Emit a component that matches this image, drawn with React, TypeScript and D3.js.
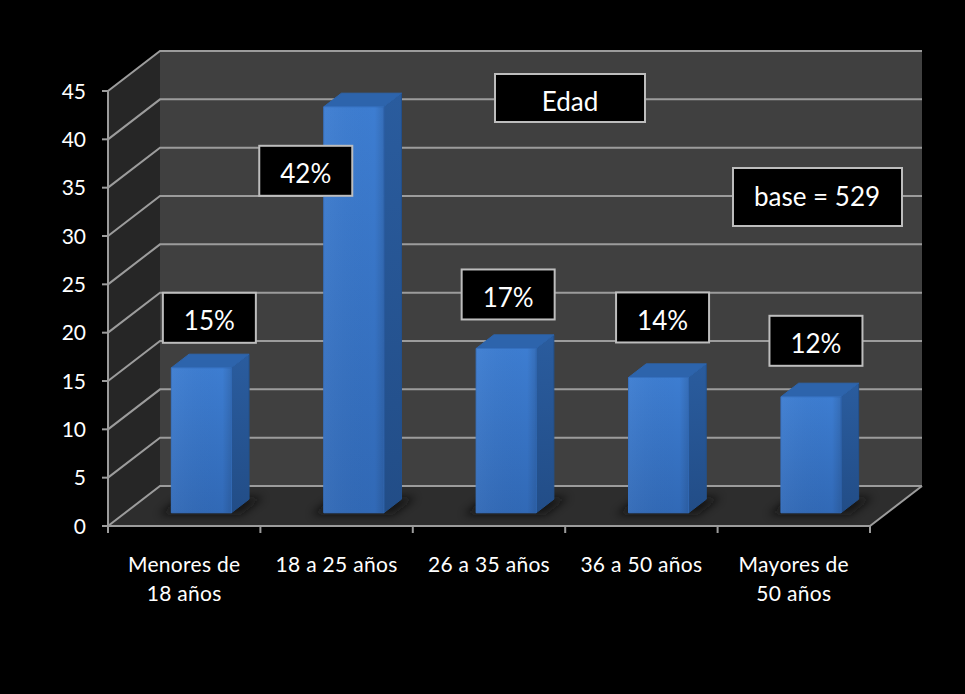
import React from "react";
import * as d3 from "d3";

// Age distribution of respondents (percent)
const categories: string[][] = [
  ["Menores de", "18 años"],
  ["18 a 25 años"],
  ["26 a 35 años"],
  ["36 a 50 años"],
  ["Mayores de", "50 años"],
];
const values: number[] = [15, 42, 17, 14, 12];
const yTicks: number[] = [0, 5, 10, 15, 20, 25, 30, 35, 40, 45];
const chartTitle = "Edad";
const baseNote = "base = 529";

// Offsets of each value box from the top-front centre of its bar (layout)
const labelOffsets: [number, number][] = [
  [8, -75],
  [-48, 39],
  [2, -79],
  [4, -85],
  [5, -81],
];

const W = 965;
const H = 694;
const FONT = "Lato, 'Noto Sans', sans-serif";

// 3D projection: depth vector from front plane to back wall
const DX = 52;
const DY = -40;
const Z0 = 0.33; // bar front face depth
const Z1 = 0.67; // bar back face depth

export default function App() {
  const keys = categories.map((c) => c.join(" "));
  const x = d3
    .scaleBand<string>()
    .domain(keys)
    .range([108, 870])
    .paddingInner(0.606)
    .paddingOuter(0.303);
  const y = d3.scaleLinear().domain([0, 45]).range([526, 91]);
  const step = x.step();
  const x0 = x.range()[0];
  const x1 = x.range()[1];
  const yTop = y(45);
  const yBase = y(0);

  const pt = (px: number, py: number, z: number) => [px + DX * z, py + DY * z];
  const poly = (pts: number[][]) => pts.map((p) => p.join(",")).join(" ");

  return (
    <div style={{ position: "fixed", inset: 0, background: "#000" }}>
      <svg width={W} height={H} style={{ display: "block" }} fontFamily={FONT}>
        <defs>
          <linearGradient id="front" x1="0" y1="0" x2="0" y2="1">
            <stop offset="0" stopColor="#3d7dd1" />
            <stop offset="1" stopColor="#3169b6" />
          </linearGradient>
          <linearGradient id="frontH" x1="0" y1="0" x2="1" y2="0">
            <stop offset="0" stopColor="#ffffff" stopOpacity="0.04" />
            <stop offset="0.85" stopColor="#000000" stopOpacity="0" />
            <stop offset="1" stopColor="#000000" stopOpacity="0.12" />
          </linearGradient>
          <linearGradient id="side" x1="0" y1="0" x2="0" y2="1">
            <stop offset="0" stopColor="#2a5c9e" />
            <stop offset="1" stopColor="#224d87" />
          </linearGradient>
          <filter id="shadowBlur" x="-30%" y="-100%" width="160%" height="300%">
            <feGaussianBlur stdDeviation="4" />
          </filter>
        </defs>

        <rect width={W} height={H} fill="#000" />

        {/* walls and floor */}
        <polygon
          points={poly([pt(x0, yTop, 1), pt(x1, yTop, 1), pt(x1, yBase, 1), pt(x0, yBase, 1)])}
          fill="#404040"
        />
        <polygon
          points={poly([pt(x0, yTop, 0), pt(x0, yTop, 1), pt(x0, yBase, 1), pt(x0, yBase, 0)])}
          fill="#262626"
        />
        <polygon
          points={poly([pt(x0, yBase, 0), pt(x0, yBase, 1), pt(x1, yBase, 1), pt(x1, yBase, 0)])}
          fill="#2d2d2d"
        />

        {/* gridlines on side and back walls */}
        {yTicks.map((t) => (
          <polyline
            key={t}
            points={poly([pt(x0, y(t), 0), pt(x0, y(t), 1), pt(x1, y(t), 1)])}
            fill="none"
            stroke="#9c9c9c"
            strokeWidth={2}
          />
        ))}
        <polyline
          points={poly([pt(x1, yBase, 0), pt(x1, yBase, 1)])}
          fill="none"
          stroke="#9c9c9c"
          strokeWidth={2}
        />

        {/* bars */}
        {values.map((v, i) => {
          const bx = x(keys[i]) as number;
          const bw = x.bandwidth();
          const top = y(v);
          const shadow = [
            pt(bx - 10, yBase, Z0 - 0.05),
            pt(bx + bw + 12, yBase, Z0 - 0.05),
            pt(bx + bw + 12, yBase, Z1 + 0.05),
            pt(bx - 10, yBase, Z1 + 0.05),
          ];
          const front = [pt(bx, top, Z0), pt(bx + bw, top, Z0), pt(bx + bw, yBase, Z0), pt(bx, yBase, Z0)];
          const side = [pt(bx + bw, top, Z0), pt(bx + bw, top, Z1), pt(bx + bw, yBase, Z1), pt(bx + bw, yBase, Z0)];
          const lid = [pt(bx, top, Z0), pt(bx, top, Z1), pt(bx + bw, top, Z1), pt(bx + bw, top, Z0)];
          return (
            <g key={i}>
              <polygon points={poly(shadow)} fill="#0d0d0d" opacity={0.75} filter="url(#shadowBlur)" />
              <polygon points={poly(side)} fill="url(#side)" stroke="#23508b" strokeWidth={1} strokeLinejoin="round" />
              <polygon points={poly(lid)} fill="#2d64ac" stroke="#2d64ac" strokeWidth={1} strokeLinejoin="round" />
              <polygon points={poly(front)} fill="url(#front)" stroke="#3570c0" strokeWidth={1} strokeLinejoin="round" />
              <polygon points={poly(front)} fill="url(#frontH)" />
            </g>
          );
        })}

        {/* front axes */}
        <line x1={x0} x2={x0} y1={yTop} y2={yBase} stroke="#9c9c9c" strokeWidth={2} />
        <line x1={x0} x2={x1} y1={yBase} y2={yBase} stroke="#9c9c9c" strokeWidth={2} />
        {yTicks.map((t) => (
          <g key={t}>
            <line x1={x0 - 6} x2={x0} y1={y(t)} y2={y(t)} stroke="#9c9c9c" strokeWidth={2} />
            <text x={86} y={y(t) + 7.5} textAnchor="end" fill="#fff" fontSize={21}>
              {t}
            </text>
          </g>
        ))}
        {d3.range(keys.length + 1).map((k) => (
          <line
            key={k}
            x1={x0 + k * step}
            x2={x0 + k * step}
            y1={yBase}
            y2={yBase + 7}
            stroke="#9c9c9c"
            strokeWidth={2}
          />
        ))}
        {categories.map((lines, i) => {
          const cx = (x(keys[i]) as number) + x.bandwidth() / 2;
          return (
            <text key={i} x={cx} y={572} textAnchor="middle" fill="#fff" fontSize={21} letterSpacing={0.3}>
              {lines.map((l, j) => (
                <tspan key={j} x={cx} dy={j === 0 ? 0 : 28.5}>
                  {l}
                </tspan>
              ))}
            </text>
          );
        })}

        {/* value boxes */}
        {values.map((v, i) => {
          const [ax, ay] = pt((x(keys[i]) as number) + x.bandwidth() / 2, y(v), Z0);
          const [ox, oy] = labelOffsets[i];
          const bw = 93;
          const bh = 50;
          const left = ax + ox - bw / 2;
          const top = ay + oy;
          return (
            <g key={i}>
              <rect x={left} y={top} width={bw} height={bh} fill="#000" stroke="#bdbdbd" strokeWidth={2} />
              <text x={left + bw / 2} y={top + 37.5} textAnchor="middle" fill="#fff" fontSize={26}>
                {`${v}%`}
              </text>
            </g>
          );
        })}

        {/* title and base note */}
        <rect x={495} y={74} width={150} height={48} fill="#000" stroke="#bdbdbd" strokeWidth={2} />
        <text x={570} y={110.5} textAnchor="middle" fill="#fff" fontSize={26}>
          {chartTitle}
        </text>
        <rect x={733} y={168} width={169} height={58} fill="#000" stroke="#bdbdbd" strokeWidth={2} />
        <text x={817} y={205.5} textAnchor="middle" fill="#fff" fontSize={26}>
          {baseNote}
        </text>
      </svg>
    </div>
  );
}
